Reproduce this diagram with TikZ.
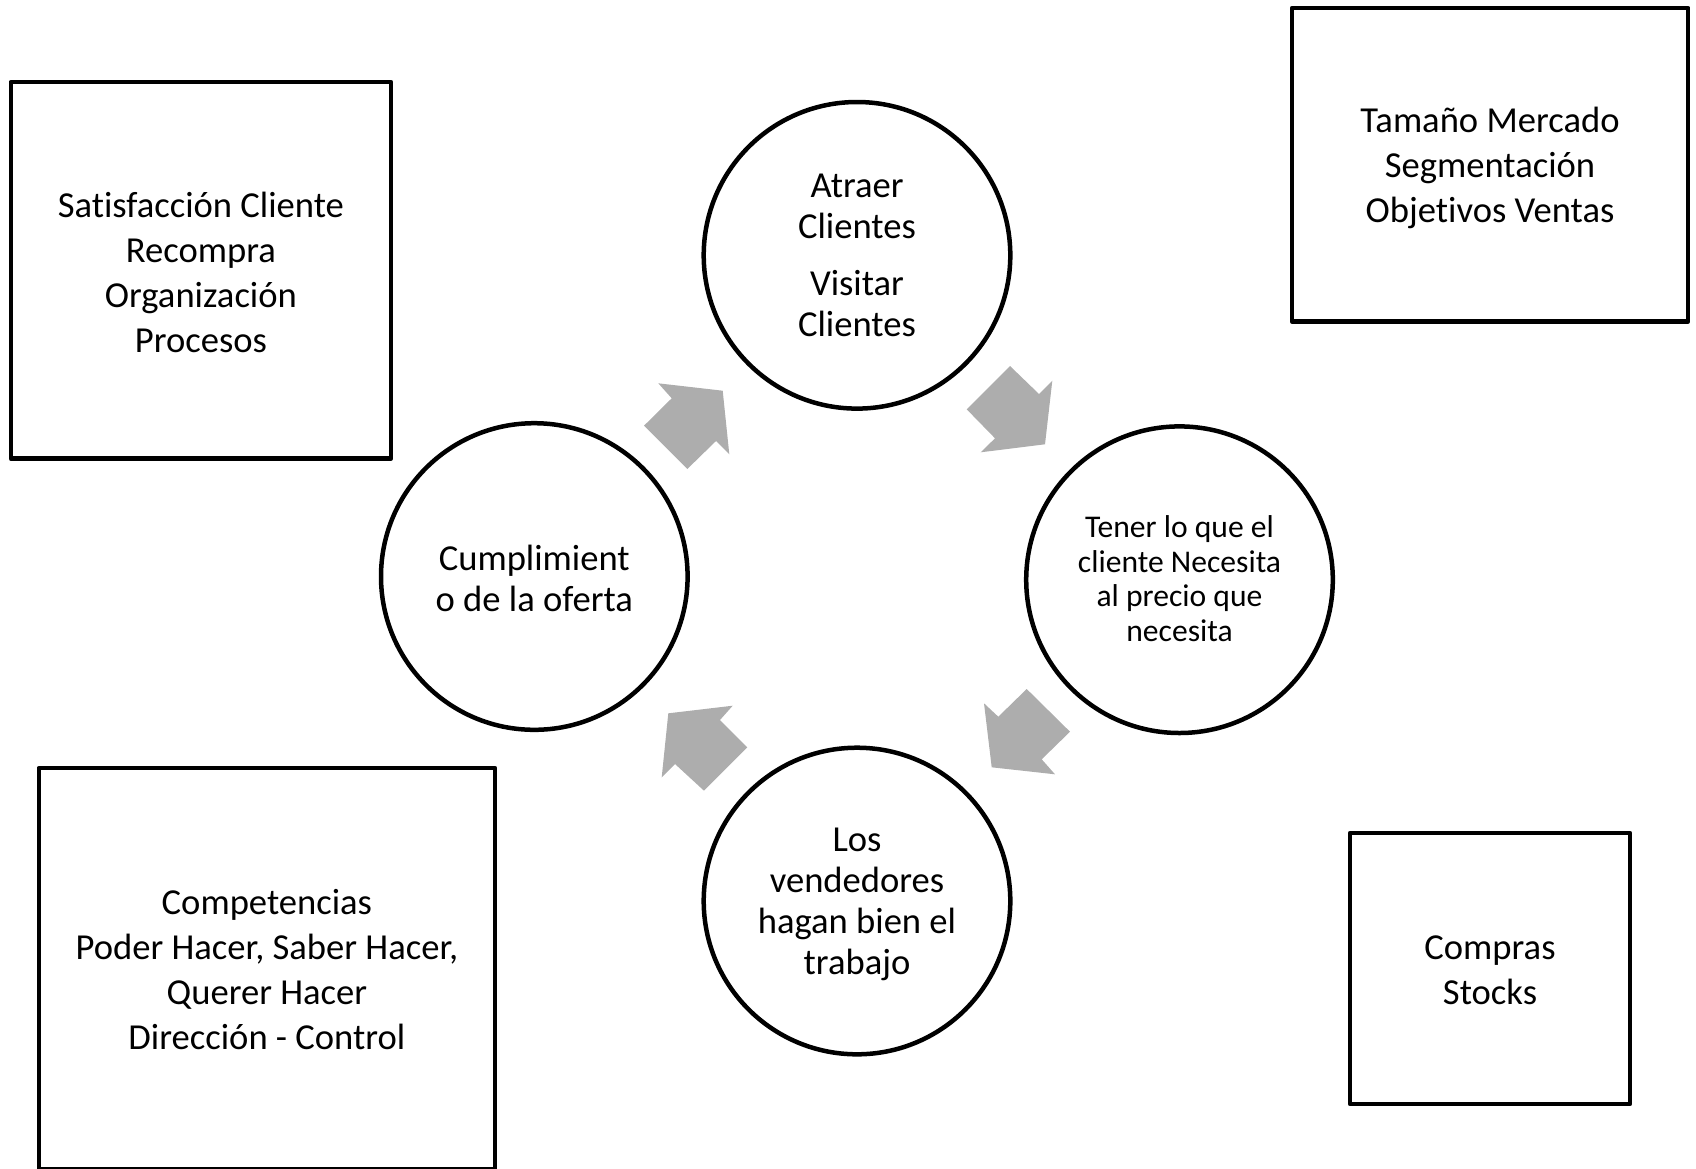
\documentclass[tikz,border=0pt]{standalone}
\usepackage{fontspec}
\setmainfont{Carlito}[Ligatures=NoCommon]
\definecolor{arrowgray}{RGB}{173,173,173}
% invisible struts fixing the first-line height and last-line depth
\newcommand{\topstrut}[1]{\rule{0pt}{#1}}
\newcommand{\botstrut}{\rule[-13.5pt]{0pt}{13.5pt}}
\begin{document}
\begin{tikzpicture}[x=1pt,y=-1pt,
  frame/.style={draw=black, line width=4.5pt, line join=round, rectangle,
    inner sep=0pt, align=center, font=\fontsize{36.6}{45}\selectfont},
  stage/.style={draw=black, line width=4.5pt, circle, minimum size=306.6pt,
    inner sep=0pt, align=center, font=\fontsize{36.6}{41}\selectfont},
  flow/.style={fill=arrowgray, draw=none}]
\useasboundingbox (0,0) rectangle (1696,1168);

% side boxes
\node[frame, minimum width=380.2pt, minimum height=376.6pt] (satisf) at (200.9,270.3)
  {\topstrut{42pt}Satisfacción Cliente\\Recompra\\Organización\\Procesos\botstrut};
\node[frame, minimum width=396.3pt, minimum height=313.3pt] (mercado) at (1490,164.7)
  {\topstrut{40pt}Tamaño Mercado\\Segmentación\\Objetivos Ventas\botstrut};
\node[frame, minimum width=456.3pt, minimum height=401.5pt] (compet) at (266.9,968.75)
  {\topstrut{40.5pt}Competencias\\Poder Hacer, Saber Hacer,\\Querer Hacer\\Dirección - Control\botstrut};
\node[frame, minimum width=280pt, minimum height=271pt] (compras) at (1490,968.5)
  {\topstrut{40.5pt}Compras\\Stocks\botstrut};

% cycle stages
\node[stage] (atraer) at (857,255.3)
  {\topstrut{36pt}Atraer\\Clientes\\[16pt]Visitar\\Clientes\botstrut};
\node[stage, font=\fontsize{31.6}{34.5}\selectfont] (tener) at (1179.5,579.7)
  {\topstrut{33pt}Tener lo que el\\cliente Necesita\\al precio que\\necesita\botstrut};
\node[stage] (vended) at (857,901)
  {\topstrut{38pt}Los\\vendedores\\hagan bien el\\trabajo\botstrut};
\node[stage] (cumpl) at (534.3,576.5)
  {\topstrut{42pt}Cumplimient\\o de la oferta\botstrut};

% block arrows of the cycle
\fill[flow] (658.3,383.3) -- (722.7,390.7) -- (729.3,454.3) -- (716,441)
  -- (687.3,469) -- (644,425.7) -- (671.7,398.3) -- cycle;
\fill[flow] (1010,366) -- (1039,394) -- (1052.3,380.7) -- (1045,444.3)
  -- (980.7,452.3) -- (995,438.3) -- (966.7,409.3) -- cycle;
\fill[flow] (984,703.3) -- (998.3,716.7) -- (1026.7,689) -- (1070,731.7)
  -- (1041.7,759.3) -- (1055,774.3) -- (991.7,767.3) -- cycle;
\fill[flow] (668.3,713.3) -- (732.7,705.7) -- (720,720) -- (747.3,747.3)
  -- (704,790.7) -- (675,764) -- (661.7,777.3) -- cycle;
\end{tikzpicture}
\end{document}
